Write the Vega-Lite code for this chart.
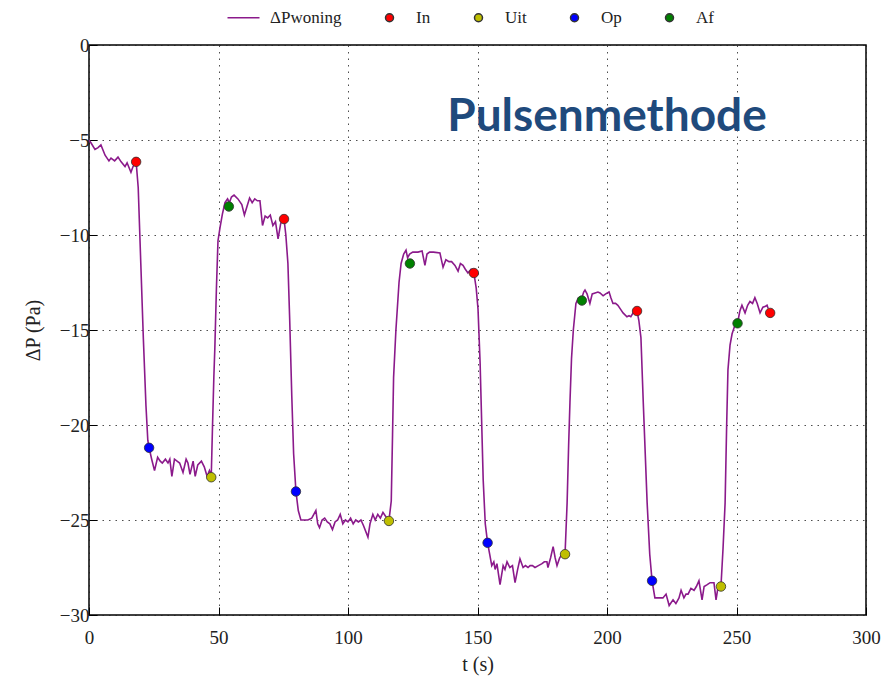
{
  "$schema": "https://vega.github.io/schema/vega-lite/v6.json",
  "autosize": {"type": "none"},
  "width": 777,
  "height": 570,
  "padding": {"left": 89, "top": 45, "right": 24, "bottom": 69},
  "background": "white",
  "config": {
    "view": {"stroke": "#000", "strokeWidth": 1.5},
    "axis": {
      "labelFont": "Liberation Serif",
      "labelFontSize": 19,
      "labelColor": "#222",
      "labelFlush": false,
      "titleFont": "Liberation Serif",
      "titleFontSize": 20,
      "titleFontWeight": "normal",
      "titleColor": "#222",
      "domain": false,
      "grid": true,
      "gridColor": "#222",
      "gridDash": [1.5, 5],
      "gridOpacity": 0.8,
      "gridWidth": 1,
      "tickColor": "#000",
      "tickSize": -8,
      "tickWidth": 1
    }
  },
  "datasets": {
    "trace": [
      {"t": 0, "p": -5.0}, {"t": 0.8, "p": -5.16}, {"t": 2.3, "p": -5.5}, {"t": 3.5, "p": -5.4}, {"t": 4.6, "p": -5.26},
      {"t": 6.2, "p": -5.8}, {"t": 7.7, "p": -6.1}, {"t": 8.5, "p": -5.95}, {"t": 9.9, "p": -6.1}, {"t": 11.2, "p": -5.9},
      {"t": 12.4, "p": -6.15}, {"t": 13.9, "p": -6.4}, {"t": 14.7, "p": -6.2}, {"t": 16.2, "p": -6.7}, {"t": 17.0, "p": -6.4},
      {"t": 18.2, "p": -6.15}, {"t": 19.0, "p": -7.5}, {"t": 20.0, "p": -11.5}, {"t": 21.0, "p": -15.5}, {"t": 22.0, "p": -19.0},
      {"t": 22.7, "p": -20.8}, {"t": 23.2, "p": -21.2}, {"t": 24.2, "p": -21.8}, {"t": 25.3, "p": -22.4}, {"t": 26.5, "p": -21.7},
      {"t": 27.5, "p": -21.9}, {"t": 28.3, "p": -22.0}, {"t": 29.5, "p": -21.8}, {"t": 30.5, "p": -22.0}, {"t": 31.2, "p": -21.8},
      {"t": 32.0, "p": -22.7}, {"t": 33.0, "p": -21.8}, {"t": 34.0, "p": -21.9}, {"t": 35.0, "p": -22.0}, {"t": 36.3, "p": -22.5},
      {"t": 37.5, "p": -21.8}, {"t": 38.2, "p": -22.0}, {"t": 39.0, "p": -22.6}, {"t": 40.2, "p": -21.9}, {"t": 41.0, "p": -22.7},
      {"t": 42.0, "p": -22.1}, {"t": 43.4, "p": -21.9}, {"t": 44.5, "p": -22.2}, {"t": 45.6, "p": -22.7}, {"t": 46.5, "p": -22.4},
      {"t": 47.2, "p": -22.7}, {"t": 47.7, "p": -20.0}, {"t": 48.2, "p": -17.5}, {"t": 48.6, "p": -15.9}, {"t": 49.2, "p": -12.8},
      {"t": 49.8, "p": -10.3}, {"t": 50.6, "p": -9.6}, {"t": 51.5, "p": -8.9}, {"t": 52.5, "p": -8.3}, {"t": 53.5, "p": -8.1},
      {"t": 54.2, "p": -8.3}, {"t": 55.0, "p": -8.0}, {"t": 56.0, "p": -7.9}, {"t": 57.5, "p": -8.1}, {"t": 59.0, "p": -8.4},
      {"t": 60.0, "p": -8.95}, {"t": 61.0, "p": -8.5}, {"t": 62.0, "p": -8.05}, {"t": 63.0, "p": -8.3}, {"t": 64.0, "p": -8.1},
      {"t": 65.0, "p": -8.2}, {"t": 66.0, "p": -8.2}, {"t": 67.0, "p": -9.5}, {"t": 68.0, "p": -9.0}, {"t": 69.0, "p": -9.1},
      {"t": 70.0, "p": -8.95}, {"t": 71.0, "p": -9.5}, {"t": 72.0, "p": -9.3}, {"t": 73.0, "p": -10.2}, {"t": 74.0, "p": -9.4},
      {"t": 74.6, "p": -9.2}, {"t": 75.3, "p": -9.16}, {"t": 76.0, "p": -10.0}, {"t": 76.8, "p": -11.5}, {"t": 77.5, "p": -14.5},
      {"t": 78.3, "p": -18.5}, {"t": 79.0, "p": -21.5}, {"t": 79.9, "p": -23.5}, {"t": 80.8, "p": -24.5}, {"t": 81.8, "p": -25.0},
      {"t": 83.0, "p": -25.0}, {"t": 84.5, "p": -25.0}, {"t": 86.0, "p": -24.9}, {"t": 87.6, "p": -24.5}, {"t": 88.3, "p": -25.2},
      {"t": 89.0, "p": -25.4}, {"t": 90.0, "p": -25.0}, {"t": 91.0, "p": -24.9}, {"t": 92.0, "p": -25.1}, {"t": 93.0, "p": -25.2},
      {"t": 94.0, "p": -25.5}, {"t": 95.0, "p": -25.1}, {"t": 96.0, "p": -25.0}, {"t": 97.0, "p": -24.7}, {"t": 98.0, "p": -25.2},
      {"t": 99.0, "p": -25.0}, {"t": 100.0, "p": -25.1}, {"t": 101.0, "p": -24.9}, {"t": 102.0, "p": -25.2}, {"t": 103.0, "p": -25.0},
      {"t": 104.0, "p": -25.1}, {"t": 105.0, "p": -25.0}, {"t": 106.0, "p": -25.3}, {"t": 107.7, "p": -25.9}, {"t": 108.5, "p": -25.2},
      {"t": 109.6, "p": -24.7}, {"t": 110.5, "p": -25.0}, {"t": 111.5, "p": -24.7}, {"t": 112.5, "p": -24.9}, {"t": 113.5, "p": -24.6},
      {"t": 114.5, "p": -24.8}, {"t": 115.8, "p": -25.05}, {"t": 116.7, "p": -24.0}, {"t": 117.2, "p": -20.5}, {"t": 117.6, "p": -17.5},
      {"t": 118.5, "p": -15.0}, {"t": 119.7, "p": -12.5}, {"t": 120.5, "p": -11.5}, {"t": 121.5, "p": -11.0}, {"t": 122.4, "p": -10.8},
      {"t": 123.0, "p": -11.2}, {"t": 123.8, "p": -11.0}, {"t": 125.0, "p": -10.9}, {"t": 127.0, "p": -10.9}, {"t": 128.6, "p": -10.84},
      {"t": 129.7, "p": -11.6}, {"t": 130.5, "p": -11.0}, {"t": 131.5, "p": -10.9}, {"t": 133.0, "p": -10.9}, {"t": 135.5, "p": -10.95},
      {"t": 136.7, "p": -11.7}, {"t": 137.8, "p": -11.3}, {"t": 139.0, "p": -11.4}, {"t": 140.0, "p": -11.4}, {"t": 141.3, "p": -11.6},
      {"t": 142.5, "p": -11.9}, {"t": 143.4, "p": -11.5}, {"t": 144.4, "p": -11.6}, {"t": 145.3, "p": -11.8}, {"t": 146.3, "p": -12.0},
      {"t": 147.5, "p": -11.8}, {"t": 148.6, "p": -12.0}, {"t": 149.5, "p": -12.8}, {"t": 150.2, "p": -13.9}, {"t": 151.0, "p": -16.7},
      {"t": 152.2, "p": -22.9}, {"t": 153.0, "p": -25.2}, {"t": 153.9, "p": -26.2}, {"t": 154.7, "p": -26.8}, {"t": 155.5, "p": -27.4},
      {"t": 156.3, "p": -27.2}, {"t": 156.8, "p": -27.6}, {"t": 157.5, "p": -27.3}, {"t": 158.7, "p": -28.4}, {"t": 159.9, "p": -27.4},
      {"t": 160.6, "p": -27.6}, {"t": 161.4, "p": -27.2}, {"t": 162.5, "p": -27.5}, {"t": 163.5, "p": -27.4}, {"t": 164.5, "p": -28.3},
      {"t": 165.5, "p": -27.6}, {"t": 166.4, "p": -27.05}, {"t": 167.6, "p": -27.5}, {"t": 168.5, "p": -27.4}, {"t": 169.5, "p": -27.5},
      {"t": 170.3, "p": -27.4}, {"t": 171.2, "p": -27.4}, {"t": 172.2, "p": -27.5}, {"t": 173.5, "p": -27.4}, {"t": 174.9, "p": -27.3},
      {"t": 175.8, "p": -27.2}, {"t": 176.8, "p": -27.2}, {"t": 177.2, "p": -27.5}, {"t": 178.2, "p": -27.0}, {"t": 179.2, "p": -26.4},
      {"t": 180.0, "p": -27.0}, {"t": 180.7, "p": -27.4}, {"t": 181.7, "p": -27.0}, {"t": 182.6, "p": -26.8}, {"t": 183.8, "p": -26.8},
      {"t": 184.6, "p": -24.1}, {"t": 185.2, "p": -21.0}, {"t": 185.7, "p": -18.8}, {"t": 186.3, "p": -16.5}, {"t": 187.0, "p": -15.0},
      {"t": 188.0, "p": -13.6}, {"t": 189.0, "p": -13.3}, {"t": 190.3, "p": -13.3}, {"t": 191.0, "p": -13.0}, {"t": 191.5, "p": -12.9},
      {"t": 192.3, "p": -13.1}, {"t": 193.4, "p": -13.6}, {"t": 194.3, "p": -13.1}, {"t": 195.4, "p": -13.05}, {"t": 196.5, "p": -13.0},
      {"t": 197.3, "p": -13.05}, {"t": 198.5, "p": -13.2}, {"t": 199.5, "p": -13.1}, {"t": 200.8, "p": -13.0}, {"t": 201.5, "p": -13.3},
      {"t": 202.3, "p": -13.6}, {"t": 203.3, "p": -13.6}, {"t": 204.2, "p": -13.7}, {"t": 205.2, "p": -13.9}, {"t": 206.2, "p": -14.1},
      {"t": 207.7, "p": -14.3}, {"t": 208.5, "p": -14.25}, {"t": 209.2, "p": -14.3}, {"t": 210.5, "p": -14.0}, {"t": 211.6, "p": -14.0},
      {"t": 212.3, "p": -14.5}, {"t": 213.1, "p": -15.4}, {"t": 214.0, "p": -18.8}, {"t": 215.5, "p": -24.1}, {"t": 216.5, "p": -26.8},
      {"t": 217.4, "p": -28.2}, {"t": 218.5, "p": -29.1}, {"t": 219.5, "p": -29.1}, {"t": 220.5, "p": -29.1}, {"t": 221.6, "p": -29.1},
      {"t": 222.8, "p": -28.9}, {"t": 224.0, "p": -29.5}, {"t": 225.5, "p": -29.2}, {"t": 226.6, "p": -29.4}, {"t": 227.8, "p": -29.1},
      {"t": 228.6, "p": -28.7}, {"t": 229.7, "p": -29.1}, {"t": 230.5, "p": -28.9}, {"t": 231.3, "p": -28.9}, {"t": 232.4, "p": -28.6},
      {"t": 233.6, "p": -28.7}, {"t": 234.5, "p": -28.5}, {"t": 235.5, "p": -28.2}, {"t": 236.7, "p": -29.2}, {"t": 237.5, "p": -28.5},
      {"t": 238.7, "p": -28.4}, {"t": 239.8, "p": -28.3}, {"t": 241.3, "p": -28.3}, {"t": 242.1, "p": -29.2}, {"t": 242.9, "p": -28.5},
      {"t": 244.0, "p": -28.5}, {"t": 244.8, "p": -26.5}, {"t": 245.6, "p": -24.1}, {"t": 246.2, "p": -20.0}, {"t": 246.7, "p": -17.1},
      {"t": 247.5, "p": -15.8}, {"t": 248.3, "p": -15.2}, {"t": 249.5, "p": -14.7}, {"t": 250.6, "p": -14.5}, {"t": 251.3, "p": -14.0},
      {"t": 252.1, "p": -13.7}, {"t": 253.3, "p": -14.1}, {"t": 254.3, "p": -13.7}, {"t": 255.2, "p": -13.5}, {"t": 256.2, "p": -13.6},
      {"t": 257.1, "p": -13.3}, {"t": 258.0, "p": -13.6}, {"t": 259.1, "p": -14.1}, {"t": 260.2, "p": -13.8}, {"t": 261.2, "p": -13.75},
      {"t": 261.8, "p": -13.7}, {"t": 262.2, "p": -13.85}
    ],
    "events": [
      {"t": 18.2, "p": -6.15, "type": "In"}, {"t": 75.3, "p": -9.16, "type": "In"}, {"t": 148.6, "p": -12.0, "type": "In"},
      {"t": 211.6, "p": -14.0, "type": "In"}, {"t": 263.0, "p": -14.1, "type": "In"},
      {"t": 47.2, "p": -22.75, "type": "Uit"}, {"t": 115.8, "p": -25.05, "type": "Uit"}, {"t": 183.8, "p": -26.8, "type": "Uit"},
      {"t": 244.0, "p": -28.5, "type": "Uit"},
      {"t": 23.2, "p": -21.2, "type": "Op"}, {"t": 79.9, "p": -23.5, "type": "Op"}, {"t": 153.9, "p": -26.2, "type": "Op"},
      {"t": 217.4, "p": -28.2, "type": "Op"},
      {"t": 54.0, "p": -8.5, "type": "Af"}, {"t": 123.9, "p": -11.5, "type": "Af"}, {"t": 190.3, "p": -13.45, "type": "Af"},
      {"t": 250.4, "p": -14.65, "type": "Af"}
    ],
    "label": [{"t": 200, "p": -4.55, "text": "Pulsenmethode"}]
  },
  "layer": [
    {
      "data": {"name": "trace"},
      "mark": {"type": "line", "color": "#8B1A8B", "strokeWidth": 1.6, "clip": true},
      "encoding": {
        "x": {"field": "t", "type": "quantitative", "scale": {"domain": [0, 300], "nice": false},
              "axis": {"title": "t (s)", "values": [0, 50, 100, 150, 200, 250, 300], "labelPadding": 21, "titlePadding": 7}},
        "y": {"field": "p", "type": "quantitative", "scale": {"domain": [-30, 0], "nice": false},
              "axis": {"title": "ΔP (Pa)", "values": [0, -5, -10, -15, -20, -25, -30], "labelPadding": 8, "titlePadding": 16}}
      }
    },
    {
      "data": {"name": "events"},
      "mark": {"type": "point", "filled": true, "size": 90, "opacity": 1, "strokeWidth": 0.8},
      "encoding": {
        "x": {"field": "t", "type": "quantitative"},
        "y": {"field": "p", "type": "quantitative"},
        "color": {
          "field": "type", "type": "nominal",
          "scale": {"domain": ["ΔPwoning", "In", "Uit", "Op", "Af"], "range": ["#8B1A8B", "#FF0000", "#BFBF00", "#0000FF", "#008000"]},
          "legend": {
            "title": null, "orient": "none", "direction": "horizontal", "legendX": 146, "legendY": -36,
            "labelFont": "Liberation Serif", "labelFontSize": 17, "labelColor": "#222", "labelOffset": 18,
            "columnPadding": 39, "symbolSize": 64,
            "encoding": {"symbols": {"update": {"strokeWidth": {"value": 1.6}, "size": {"value": 64}}}}
          }
        },
        "stroke": {
          "field": "type", "type": "nominal",
          "scale": {"domain": ["ΔPwoning", "In", "Uit", "Op", "Af"], "range": ["#8B1A8B", "#333333", "#333333", "#333333", "#333333"]},
          "legend": {
            "title": null, "orient": "none", "direction": "horizontal", "legendX": 146, "legendY": -36,
            "labelFont": "Liberation Serif", "labelFontSize": 17, "labelColor": "#222", "labelOffset": 18,
            "columnPadding": 39, "symbolSize": 64,
            "encoding": {"symbols": {"update": {"strokeWidth": {"value": 1.6}, "size": {"value": 64}}}}
          }
        },
        "shape": {
          "field": "type", "type": "nominal",
          "scale": {"domain": ["ΔPwoning", "In", "Uit", "Op", "Af"],
                    "range": ["M-4,0H4", "M0,-1A1,1,0,1,1,0,1A1,1,0,1,1,0,-1Z", "M0,-1A1,1,0,1,1,0,1A1,1,0,1,1,0,-1Z", "M0,-1A1,1,0,1,1,0,1A1,1,0,1,1,0,-1Z", "M0,-1A1,1,0,1,1,0,1A1,1,0,1,1,0,-1Z"]},
          "legend": {
            "title": null, "orient": "none", "direction": "horizontal", "legendX": 146, "legendY": -36,
            "labelFont": "Liberation Serif", "labelFontSize": 17, "labelColor": "#222", "labelOffset": 18,
            "columnPadding": 39, "symbolSize": 64,
            "encoding": {"symbols": {"update": {"strokeWidth": {"value": 1.6}, "size": {"value": 64}}}}
          }
        }
      }
    },
    {
      "data": {"name": "label"},
      "mark": {"type": "text", "font": "Lato", "fontWeight": "bold", "fontSize": 46, "color": "#1F4A7C", "align": "center", "baseline": "alphabetic"},
      "encoding": {
        "x": {"field": "t", "type": "quantitative"},
        "y": {"field": "p", "type": "quantitative"},
        "text": {"field": "text"}
      }
    }
  ]
}
